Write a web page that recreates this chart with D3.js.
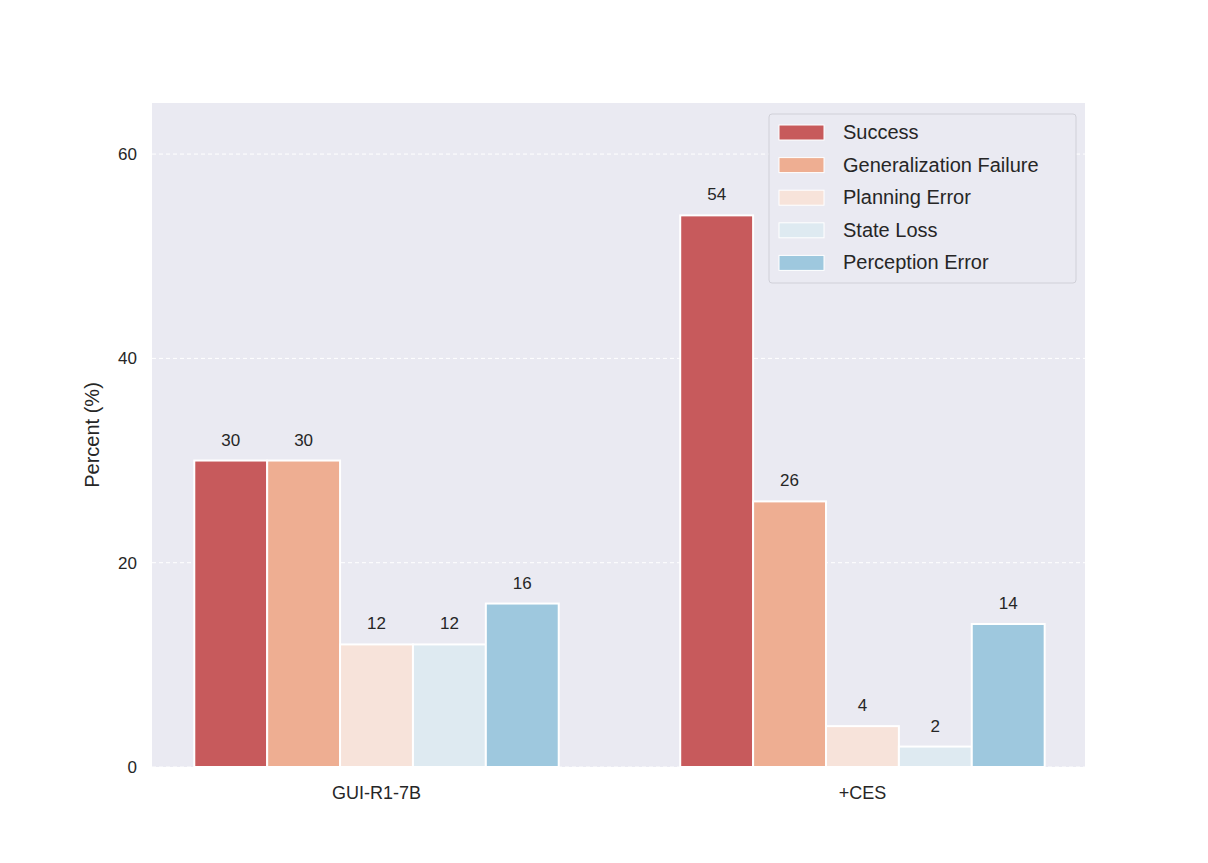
<!DOCTYPE html>
<html><head><meta charset="utf-8">
<script src="https://cdn.jsdelivr.net/npm/d3@7"></script>
<style>body{margin:0;background:#fff;font-family:"Liberation Sans",Arial,sans-serif;}</style>
</head><body><svg id="chart" width="1208" height="863"></svg>
<script>
const groups = ['GUI-R1-7B', '+CES'];
const series = ['Success', 'Generalization Failure', 'Planning Error', 'State Loss', 'Perception Error'];
const colors = ['#c75a5c', '#eeae92', '#f7e3da', '#deeaf1', '#9ec8de'];
const values = [
  [30, 54],
  [30, 26],
  [12, 4],
  [12, 2],
  [16, 14]
];
const yTicks = [0, 20, 40, 60];

const svg = d3.select('#chart');
const L = 152, R = 1085, T = 103, B = 767;
const x = d3.scaleLinear().domain([-0.462, 1.458]).range([L, R]);
const y = d3.scaleLinear().domain([0, 65]).range([B, T]);
const bw = 0.15;

svg.append('rect').attr('x', L).attr('y', T).attr('width', R - L).attr('height', B - T).attr('fill', '#eaeaf2');

svg.selectAll('.grid').data(yTicks).enter().append('line')
  .attr('x1', L).attr('x2', R).attr('y1', d => y(d)).attr('y2', d => y(d))
  .attr('stroke', '#fff').attr('stroke-dasharray', '4,3').attr('stroke-width', 1);

svg.selectAll('.yt').data(yTicks).enter().append('text')
  .attr('x', L - 15).attr('y', d => y(d) + 6).attr('text-anchor', 'end')
  .attr('font-size', 17).attr('fill', '#262626').text(d => d);

svg.append('text').attr('transform', `translate(99,${(T + B) / 2}) rotate(-90)`)
  .attr('text-anchor', 'middle').attr('font-size', 20).attr('fill', '#262626').text('Percent (%)');

svg.selectAll('.xt').data(groups).enter().append('text')
  .attr('x', (d, i) => x(i)).attr('y', B + 32).attr('text-anchor', 'middle')
  .attr('font-size', 18).attr('fill', '#262626').text(d => d);

series.forEach((s, si) => {
  const off = (si - 2) * bw;
  const g = svg.append('g');
  g.selectAll('rect').data(values[si]).enter().append('rect')
    .attr('x', (d, i) => x(i + off - bw / 2)).attr('width', x(bw) - x(0))
    .attr('y', d => y(d)).attr('height', d => B - y(d))
    .attr('fill', colors[si]).attr('stroke', '#fff').attr('stroke-width', 2);
  g.selectAll('text').data(values[si]).enter().append('text')
    .attr('x', (d, i) => x(i + off)).attr('y', d => y(d) - 15).attr('text-anchor', 'middle')
    .attr('font-size', 17).attr('fill', '#262626').text(d => d);
});

const lg = svg.append('g').attr('transform', 'translate(769,114)');
lg.append('rect').attr('width', 307).attr('height', 169).attr('rx', 3)
  .attr('fill', '#eaeaf2').attr('stroke', '#d0d0d8');
series.forEach((s, i) => {
  lg.append('rect').attr('x', 10).attr('y', 11 + i * 32.6).attr('width', 45).attr('height', 15)
    .attr('fill', colors[i]).attr('stroke', '#fff');
  lg.append('text').attr('x', 74).attr('y', 25 + i * 32.6).attr('font-size', 20)
    .attr('fill', '#262626').text(s);
});
</script></body></html>
